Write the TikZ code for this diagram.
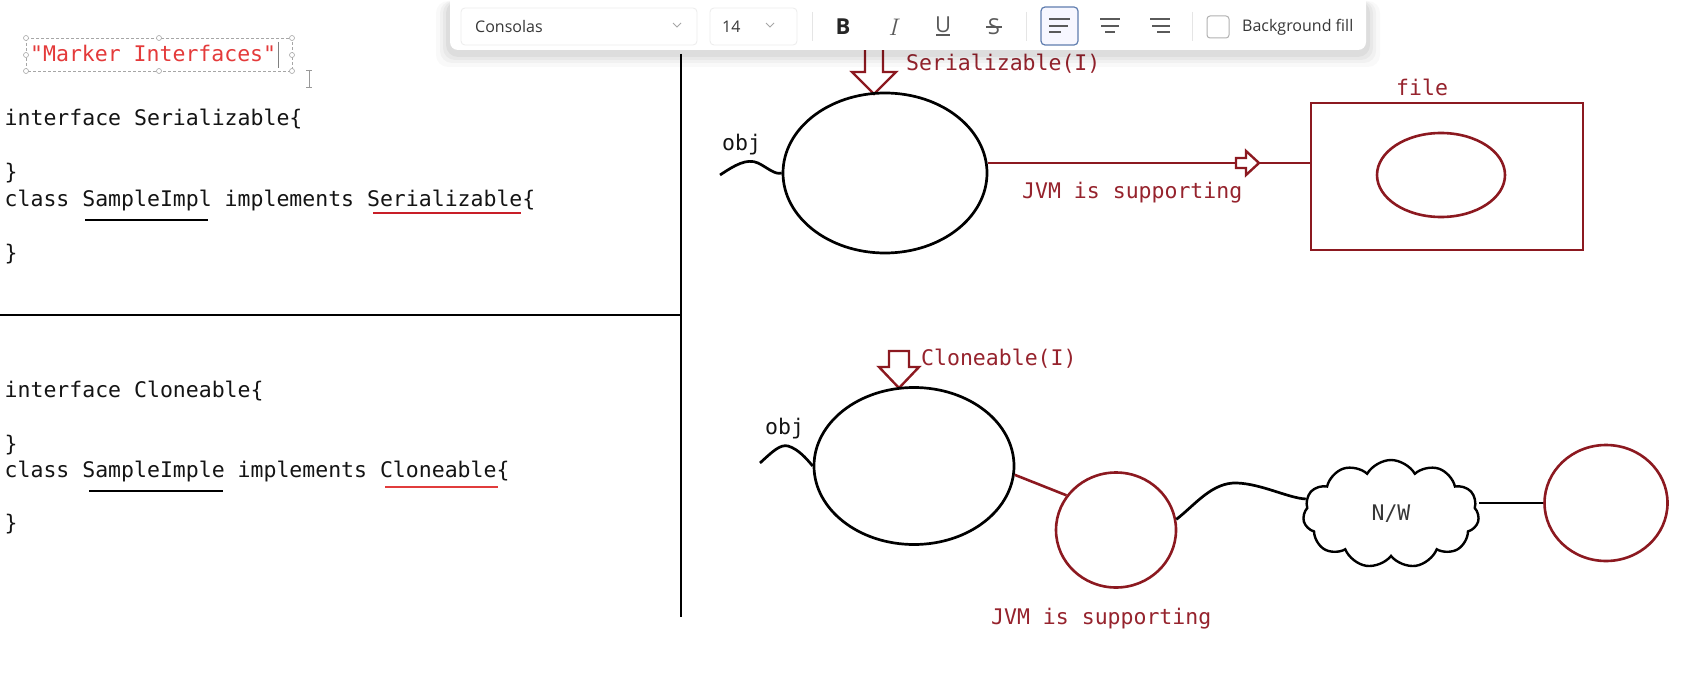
\documentclass[tikz,border=0pt]{standalone}
\usepackage{fontspec}
\setmonofont{DejaVu Sans Mono}
\setsansfont{Open Sans}
\usetikzlibrary{shapes.geometric,shapes.symbols}
\definecolor{codeblack}{RGB}{20,20,20}
\definecolor{markred}{RGB}{228,58,58}
\definecolor{lblred}{RGB}{150,35,45}
\definecolor{shapered}{RGB}{140,25,32}
\definecolor{ulred}{RGB}{200,30,40}
\definecolor{ulredb}{RGB}{225,60,60}
\definecolor{tbtext}{RGB}{55,55,55}
\definecolor{icongray}{RGB}{90,90,90}
\definecolor{selblue}{RGB}{95,125,175}
\tikzset{
  code/.style={anchor=base west, inner sep=0pt, font=\ttfamily\fontsize{21.5}{26}\selectfont, text=codeblack},
  lbl/.style={anchor=base west, inner sep=0pt, font=\ttfamily\fontsize{21.5}{26}\selectfont, text=lblred},
  blackobj/.style={ellipse, draw=black, line width=2.7pt, inner sep=0pt},
  redobj/.style={ellipse, draw=shapered, line width=2.6pt, inner sep=0pt},
  redline/.style={draw=shapered, line width=2.6pt},
  blackline/.style={draw=black, line width=2.7pt},
  hollowarrow/.style={draw=shapered, line width=2.4pt, fill=white, line join=miter},
  tbbox/.style={draw=gray!15, fill=white, rounded corners=4pt, line width=0.8pt, inner sep=0pt},
  tbfont/.style={font=\sffamily\fontsize{16}{19}\selectfont, text=tbtext, inner sep=0pt},
  handle/.style={circle, draw=gray!70, fill=white, line width=0.6pt, inner sep=0pt, minimum size=5pt},
  chev/.style={draw=gray!70, line width=0.9pt},
  sep/.style={draw=gray!20, line width=0.8pt},
  alignicon/.style={draw=icongray, line width=1.8pt},
  iconfont/.style={font=\sffamily\fontsize{22}{24}\selectfont, text=icongray, inner sep=0pt},
}
\begin{document}
\begin{tikzpicture}[x=1pt,y=-1pt]
\useasboundingbox (0,0) rectangle (1707,687);
\fill[white] (0,0) rectangle (1707,687);

% ---------- left panel ----------
\draw[line width=2.6pt] (0,315) -- (681,315);
\draw[line width=2.6pt] (681,54) -- (681,617);

% title box
\draw[gray!70, densely dashed, line width=0.8pt] (26,38) rectangle (292,71);
\foreach \hx/\hy [count=\i] in {26/38,159/38,292/38,26/71,159/71,292/71,26/55,292/55}
  \node[handle] (h\i) at (\hx,\hy) {};
\node[code, text=markred] (title) at (30,62) {"Marker Interfaces"};
\draw[gray, line width=1pt] (278,42) -- (278,68);
\draw[gray!80, line width=0.8pt] (309,70) -- (309,87) (306,70) -- (312,70) (306,87) -- (312,87);

% code
\node[code] (l1) at (4.5,126) {interface Serializable\{};
\node[code] (l2) at (4.5,180) {\}};
\node[code] (l3) at (4.5,207) {class SampleImpl implements Serializable\{};
\node[code] (l4) at (4.5,260) {\}};
\node[code] (l5) at (4.5,397) {interface Cloneable\{};
\node[code] (l6) at (4.5,451) {\}};
\node[code] (l7) at (4.5,477) {class SampleImple implements Cloneable\{};
\node[code] (l8) at (4.5,530) {\}};
\draw[black, line width=2.8pt] (85,220) -- (208,220);
\draw[ulred, line width=2.2pt] (373,213) -- (521,213);
\draw[black, line width=2.8pt] (89,491) -- (223,491);
\draw[ulredb, line width=2.2pt] (385,487) -- (498,487);

% ---------- top diagram ----------
\draw[hollowarrow] (865,40) -- (883,40) -- (883,72) -- (896,72) -- (874,94) -- (852,72) -- (865,72) -- cycle;
\node[lbl] (serlbl) at (906,71) {Serializable(I)};
\node[blackobj, minimum width=204pt, minimum height=160pt] (serobj) at (885,173) {};
\node[code] (obj1) at (722,151) {obj};
\coordinate (sq1) at (720,175);
\draw[blackline] (sq1) .. controls (735,165) and (747,158) .. (758,163) .. controls (768,168) and (775,175) .. (serobj.west);

\coordinate (ra1) at (1236,163);
\coordinate (ra2) at (1259,163);
\node[draw=shapered, line width=2.6pt, minimum width=272pt, minimum height=147pt, inner sep=0pt] (filebox) at (1447,176.5) {};
\draw[redline] (serobj.east |- ra1) -- (ra1);
\draw[redline] (ra2) -- (filebox.west |- ra2);
\draw[hollowarrow] (ra1) -- (1236,158) -- (1246,158) -- (1246,151) -- (ra2) -- (1246,175) -- (1246,168) -- (1236,168) -- cycle;
\node[lbl] (jvm1) at (1022,199) {JVM is supporting};
\node[lbl] (filelbl) at (1396,96) {file};
\node[redobj, minimum width=128pt, minimum height=84pt] (fileobj) at (1441,175) {};

% ---------- bottom diagram ----------
\draw[hollowarrow] (889,351) -- (909,351) -- (909,367) -- (919,367) -- (899,388) -- (879,367) -- (889,367) -- cycle;
\node[lbl] (cllbl) at (921,365) {Cloneable(I)};
\node[blackobj, minimum width=200pt, minimum height=157pt] (clobj) at (914,466) {};
\node[code] (obj2) at (765,434) {obj};
\coordinate (sq2) at (760,463);
\draw[blackline] (sq2) .. controls (772,452) and (780,444) .. (788,446) .. controls (798,449) and (806,458) .. (clobj.west);
\node[redobj, minimum width=120pt, minimum height=115pt] (c2) at (1116,530) {};
\draw[redline] (clobj.-5) -- (c2.145);
\node[cloud, draw=black, line width=2.4pt, cloud puffs=11, cloud puff arc=120, aspect=1.6,
      minimum width=176pt, minimum height=108pt, inner sep=0pt,
      font=\ttfamily\fontsize{21.5}{26}\selectfont, text=tbtext] (net) at (1391,514) {N/W};
\draw[blackline] (c2.10) .. controls (1195,505) and (1212,482) .. (1237,483) .. controls (1262,484) and (1288,498) .. (net.170);
\node[redobj, minimum width=123pt, minimum height=116pt] (c3) at (1606,503) {};
\draw[blackline] (net.east |- c3.west) -- (c3.west);
\node[lbl] (jvm2) at (991,624) {JVM is supporting};

% ---------- toolbar ----------
\foreach \s/\o in {14/0.025,10/0.03,7/0.035,4/0.045}
  \fill[black, opacity=\o, rounded corners=12pt] (450-\s,1) rectangle (1366+\s,53+\s);
\fill[white, rounded corners=8pt] (450,-8) rectangle (1366,50);
\node[tbbox, minimum width=236pt, minimum height=37pt] (fontbox) at (579,26.5) {};
\node[tbfont, anchor=west] (fontname) at (475,27) {Consolas};
\draw[chev] (673,23) -- (677,27) -- (681,23);
\node[tbbox, minimum width=87pt, minimum height=37pt] (sizebox) at (753.5,26.5) {};
\node[tbfont, anchor=west] (sizename) at (722,27) {14};
\draw[chev] (766,23) -- (770,27) -- (774,23);
\draw[sep] (812,12) -- (812,41);
\node[font=\sffamily\bfseries\fontsize{22}{24}\selectfont, text=black!85, inner sep=0pt] (bbtn) at (843,27) {B};
\node[font=\rmfamily\itshape\fontsize{24}{26}\selectfont, text=icongray, inner sep=0pt] (ibtn) at (893,27) {I};
\node[iconfont] (ubtn) at (943,25) {U};
\draw[icongray, line width=1.2pt] (936,35) -- (950,35);
\node[iconfont] (sbtn) at (994,27) {S};
\draw[icongray, line width=1.2pt] (986,27) -- (1002,27);
\draw[sep] (1026,12) -- (1026,41);
\draw[selblue, fill=blue!3, rounded corners=4pt, line width=1.2pt] (1041,7) rectangle (1078,45);
\draw[alignicon] (1049,19) -- (1070,19) (1049,26) -- (1068,26) (1049,32) -- (1061,32);
\draw[alignicon] (1100,19) -- (1120,19) (1101,26) -- (1119,26) (1105,32) -- (1115,32);
\draw[alignicon] (1150,19) -- (1170,19) (1152,26) -- (1170,26) (1157,32) -- (1170,32);
\draw[sep] (1192,12) -- (1192,41);
\draw[gray!60, rounded corners=3pt, line width=1pt, fill=white] (1207,16) rectangle (1229,38);
\node[tbfont, anchor=west] (bgfill) at (1242,27) {Background fill};
\end{tikzpicture}
\end{document}
